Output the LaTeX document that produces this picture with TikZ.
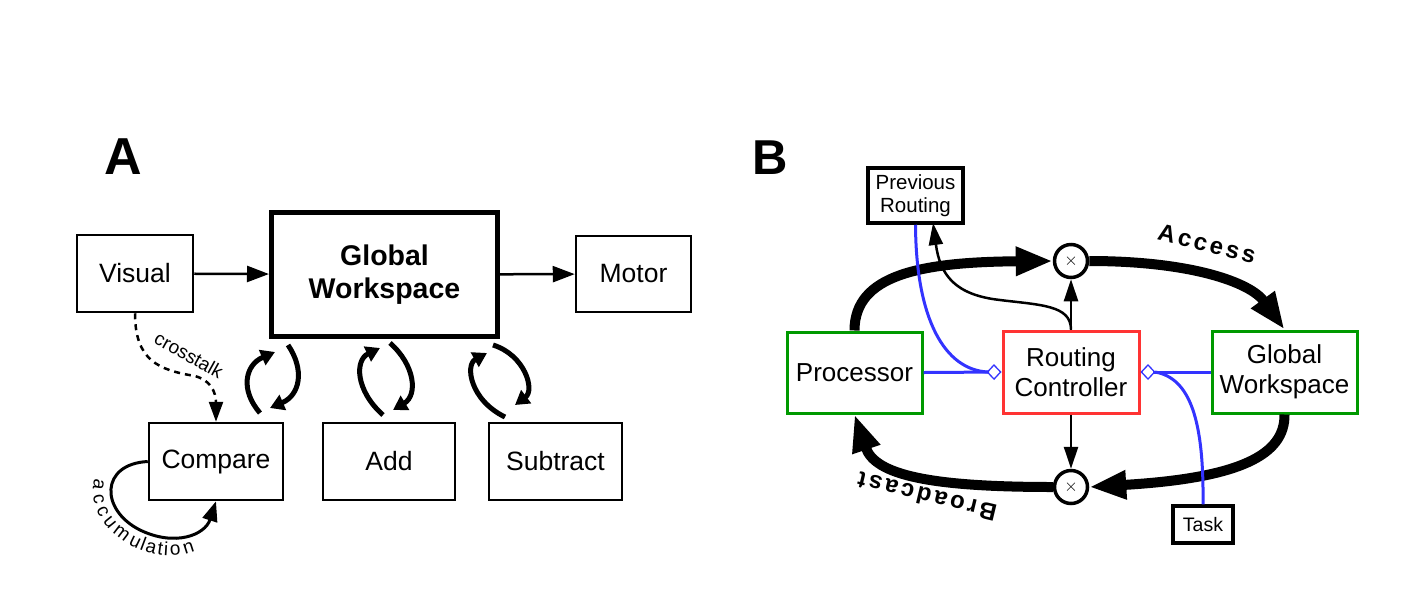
\documentclass[tikz,border=0pt]{standalone}
\usepackage{fontspec}
\setmainfont{Liberation Sans}
\usetikzlibrary{arrows.meta,decorations.text}
\definecolor{gcol}{RGB}{0,153,0}
\definecolor{rcol}{RGB}{255,51,51}
\definecolor{bcol}{RGB}{51,51,255}
\newcommand{\fsz}[2]{\fontsize{#1}{#2}\selectfont}
\newcommand{\lblfont}{\fontsize{19}{19}\selectfont}
\begin{document}
\begin{tikzpicture}[x=1pt,y=-1pt,
  boxA/.style={draw, line width=2.5pt, inner sep=0pt, align=center, font=\fsz{26.5}{31}},
  boxB/.style={draw, line width=3pt, inner sep=0pt, align=center, font=\fsz{26}{29.5}},
  smallbox/.style={draw, line width=3.5pt, inner sep=0pt, align=center, font=\fsz{20.5}{23}},
  timesnode/.style={draw, circle, line width=3.5pt, minimum size=33pt, inner sep=0pt, font=\fsz{16}{16}},
  arrA/.style={line width=2.5pt, -{Triangle[length=22pt,width=16pt]}},
  looparr/.style={line width=5pt, -{Triangle[length=14pt,width=16pt]}},
  thickarr/.style={line width=10pt, -{Triangle[length=37pt,width=27pt]}},
  thinarr/.style={line width=2.5pt, -{Triangle[length=22pt,width=14pt]}},
  blueline/.style={draw=bcol, line width=3pt},
  bluediam/.style={draw=bcol, line width=3pt, -{Diamond[open,length=15pt,width=16pt,line width=1.3pt]}},
  biglabel/.style={font=\fsz{24}{24}\bfseries\addfontfeatures{LetterSpace=13}},
]
\useasboundingbox (0,0) rectangle (1410,614);

% ---------------- Panel A ----------------
\node[font=\fsz{52}{52}\bfseries] (labA) at (123.5,157) {A};
\node[boxA, minimum width=116pt, minimum height=77pt] (visual) at (135,273.5) {Visual};
\node[boxA, line width=5pt, minimum width=226pt, minimum height=124pt, font=\fsz{28.5}{33}\bfseries] (gwa) at (384.5,274.5) {Global\\Workspace};
\node[boxA, minimum width=115pt, minimum height=76pt] (motor) at (633.5,274) {Motor};
\node[boxA, minimum width=134pt, minimum height=77pt] (compare) at (216,461.5) {Compare};
\node[boxA, minimum width=132pt, minimum height=77pt] (add) at (389,461.5) {Add};
\node[boxA, minimum width=133pt, minimum height=77pt] (subtract) at (555.5,461.5) {Subtract};

\draw[arrA] (visual) -- (gwa);
\draw[arrA] (gwa) -- (motor);

% crosstalk
\draw[line width=2.5pt, dash pattern=on 6pt off 5pt, -{Triangle[length=20pt,width=14pt]}]
  (visual.south) .. controls (135,360) and (158,370) .. (195,376) .. controls (216,382) and (216,400) .. (compare.north);
\node[font=\lblfont, rotate=-29, inner sep=0pt] (crosstalk) at (189,355) {crosstalk};

% accumulation
\draw[line width=3pt, -{Triangle[length=20pt,width=15pt]}]
  (compare.west) .. controls (100,464) and (100,510) .. (140,530) .. controls (175,547) and (205,535) .. (compare.south);
\path[decorate, decoration={text along path, text={|\lblfont|accumulation}, text align=center, raise=-18pt}]
  (compare.west) .. controls (100,464) and (100,510) .. (140,530) .. controls (175,547) and (205,535) .. (compare.south);

% exchange arrows
\coordinate (c1a) at (260,413); \coordinate (c1b) at (275,352);
\coordinate (c2a) at (288,345); \coordinate (c2b) at (270,408);
\draw[looparr] (c1a) .. controls (240,390) and (245,365) .. (c1b);
\draw[looparr] (c2a) .. controls (305,370) and (300,395) .. (c2b);
\coordinate (a1a) at (383,415); \coordinate (a1b) at (380,348);
\coordinate (a2a) at (390,343); \coordinate (a2b) at (393,410);
\draw[looparr] (a1a) .. controls (355,390) and (355,360) .. (a1b);
\draw[looparr] (a2a) .. controls (415,365) and (418,395) .. (a2b);
\coordinate (s1a) at (505,417); \coordinate (s1b) at (487,353);
\coordinate (s2a) at (493,345); \coordinate (s2b) at (515,405);
\draw[looparr] (s1a) .. controls (470,400) and (465,365) .. (s1b);
\draw[looparr] (s2a) .. controls (525,355) and (535,390) .. (s2b);

% ---------------- Panel B ----------------
\node[font=\fsz{49}{49}\bfseries] (labB) at (770,157.5) {B};
\node[smallbox, minimum width=95pt, minimum height=55pt] (prev) at (915.5,195.5) {Previous\\Routing};
\node[timesnode] (tx) at (1071,261) {$\times$};
\node[boxB, draw=gcol, minimum width=135pt, minimum height=81pt] (proc) at (854.5,372.5) {Processor};
\node[boxB, draw=rcol, minimum width=136pt, minimum height=82pt] (rc) at (1071,372) {Routing\\Controller};
\node[boxB, draw=gcol, minimum width=145pt, minimum height=82pt, font=\fsz{26}{30}] (gwb) at (1284.5,372) {Global\\Workspace};
\node[timesnode] (bx) at (1071,487) {$\times$};
\node[smallbox, minimum width=60pt, minimum height=37pt, font=\fsz{19.5}{22}] (task) at (1203,524.5) {Task};

\coordinate (previn) at (933,223);
\coordinate (dL) at (988,372);
\coordinate (dR) at (1155,372);

% thick loop
\draw[thickarr] (proc.north) .. controls (854.5,275) and (920,262) .. (tx.west);
\draw[thickarr] (tx.east) .. controls (1190,261) and (1250,282) .. (gwb.north);
\draw[thickarr] (gwb.south) .. controls (1285,455) and (1240,478) .. (bx.east);
\draw[thickarr] (bx.west) .. controls (930,487) and (875,475) .. (proc.south);

% thin control arrows
\draw[thinarr] (rc.north) -- (tx.south);
\draw[thinarr] (rc.south) -- (bx.north);
\draw[thinarr] (rc.north) .. controls (1071,305) and (1040,305) .. (1000,300) .. controls (955,295) and (940,275) .. (previn);

% blue gating
\draw[blueline] (prev.south) .. controls (916,320) and (945,370) .. (dL);
\draw[bluediam] (proc.east) -- (rc.west);
\draw[bluediam] (gwb.west) -- (rc.east);
\draw[blueline] (dR) .. controls (1190,378) and (1204,420) .. (task.north);

% labels
\node[biglabel, rotate=-14] (access) at (1207,244) {Access};
\node[biglabel, rotate=166.5] (broadcast) at (927,497) {Broadcast};
\end{tikzpicture}
\end{document}
